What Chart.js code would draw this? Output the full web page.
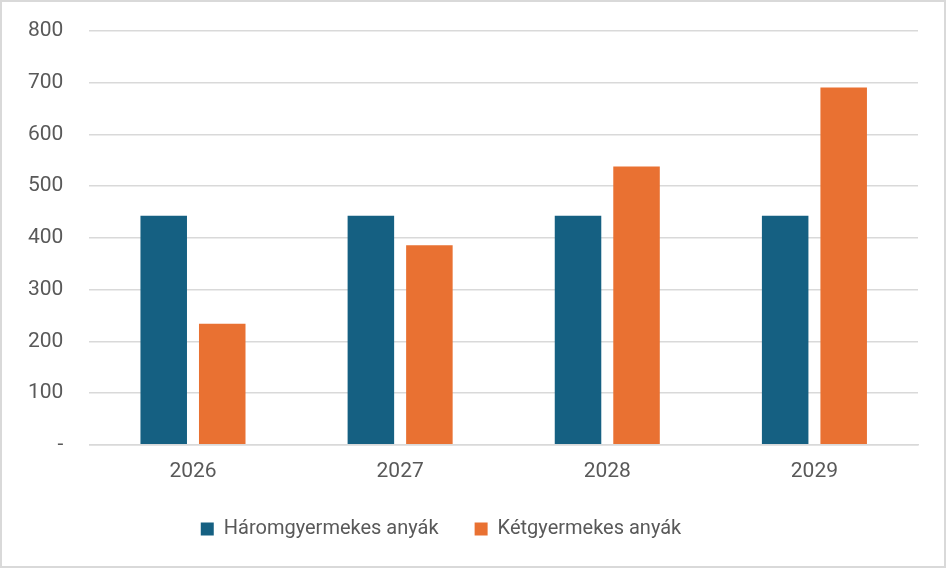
<!DOCTYPE html>
<html>
<head>
<meta charset="utf-8">
<script src="https://cdn.jsdelivr.net/npm/chart.js@4.4.1/dist/chart.umd.min.js"></script>
<style>
  html, body { margin: 0; padding: 0; background: #fff; }
  #keret { width: 942px; height: 564px; border: 2px solid #d9d9d9; position: relative; }
</style>
</head>
<body>
<div id="keret"><canvas id="grafico_oszlop"></canvas></div>
<script>
// adatok
const evek = ['2026', '2027', '2028', '2029'];
const haromgyermekes = [443, 443, 443, 443];
const ketgyermekes = [234, 386, 538, 691];
const sorozatNevek = ['Háromgyermekes anyák', 'Kétgyermekes anyák'];

// a jelmagyarazat kicsit balra van az eredetin
const jelmagyarazatEltolas = {
    id: 'jelmagyarazatEltolas',
    afterLayout: function (chart) {
        chart.legend.left -= 19;
        chart.legend.right -= 19;
    }
};

const ctx = document.getElementById('grafico_oszlop');

new Chart(ctx, {
    type: 'bar',
    data: {
        labels: evek,
        datasets: [{
            label: sorozatNevek[0],
            data: haromgyermekes,
            backgroundColor: '#156082',
            borderWidth: 0,
            categoryPercentage: 0.565,
            barPercentage: 0.795
        }, {
            label: sorozatNevek[1],
            data: ketgyermekes,
            backgroundColor: '#E97132',
            borderWidth: 0,
            categoryPercentage: 0.565,
            barPercentage: 0.795
        }]
    },
    options: {
        responsive: true,
        maintainAspectRatio: false,
        animation: false,
        layout: { padding: { top: 0, right: 26, left: 0, bottom: 17 } },
        plugins: {
            legend: {
                position: 'bottom',
                labels: {
                    color: '#595959',
                    font: { family: 'Roboto', size: 20 },
                    boxWidth: 13,
                    boxHeight: 13,
                    padding: 36,
                    useBorderRadius: false
                }
            },
            tooltip: { enabled: false }
        },
        scales: {
            y: {
                min: 0,
                max: 800,
                ticks: {
                    stepSize: 100,
                    color: '#595959',
                    font: { family: 'Roboto', size: 21 },
                    padding: 26,
                    callback: function (v) { return v === 0 ? '-' : v; }
                },
                grid: { color: '#d9d9d9', lineWidth: 1.5, drawTicks: false },
                border: { display: false },
                // a tick padding ne tolja le a rajzterulet tetejet
                afterFit: function (scale) { scale.paddingTop = 29; }
            },
            x: {
                ticks: {
                    color: '#595959',
                    font: { family: 'Roboto', size: 21 },
                    padding: 14
                },
                grid: { display: false, drawTicks: false },
                border: { color: '#d9d9d9', width: 1.5 },
                afterFit: function (scale) { scale.height -= 15; }
            }
        }
    },
    plugins: [jelmagyarazatEltolas]
});
</script>
</body>
</html>
